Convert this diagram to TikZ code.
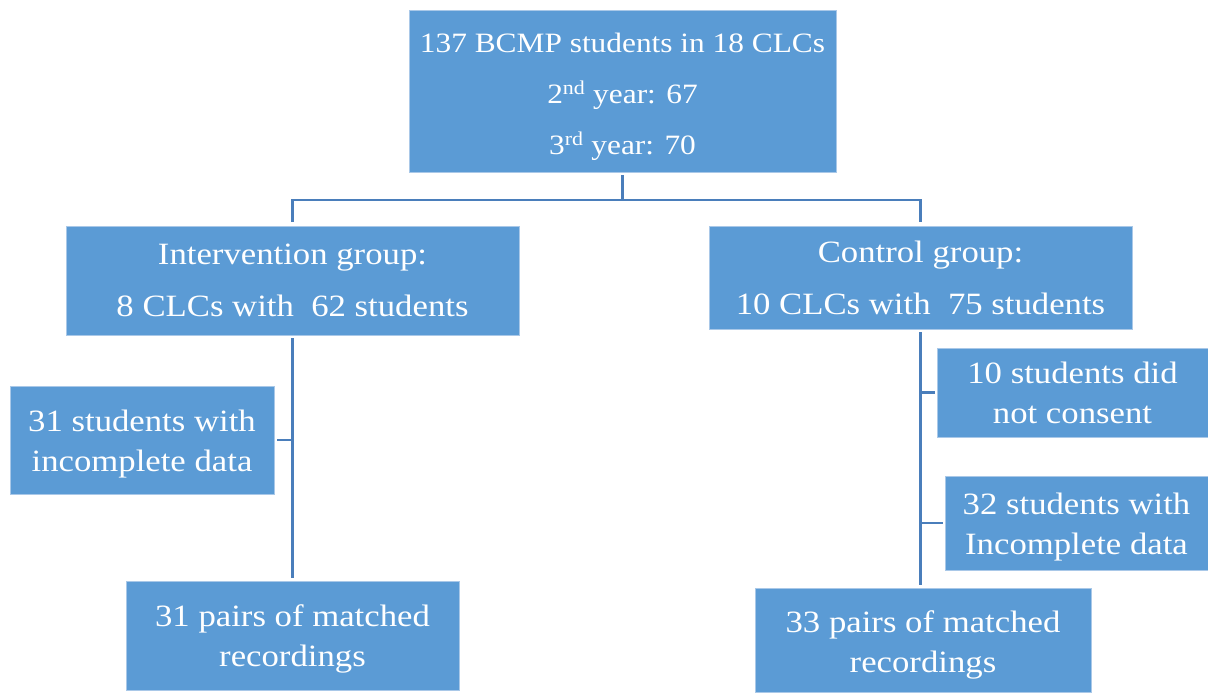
\documentclass[tikz,border=0pt]{standalone}
\usepackage{fontspec}
\setmainfont{Liberation Serif}[FakeStretch=1.12]
\definecolor{boxfill}{HTML}{5B9BD5}
\definecolor{boxedge}{HTML}{A9C8E8}
\definecolor{connc}{HTML}{4A7EBB}
\newcommand\dnA{\rule{0pt}{32pt}}
\newcommand\dnB{\rule{0pt}{29pt}}
\begin{document}
\begin{tikzpicture}[x=1pt,y=1pt,
  box/.style={rectangle, fill=boxfill, draw=boxedge, line width=0.8pt, text=white, align=center, inner sep=0pt},
  topf/.style={font=\fontsize{28}{51}\selectfont},
  wide/.style={font=\fontsize{31}{52}\selectfont},
  tight/.style={font=\fontsize{31}{40}\selectfont},
  conn/.style={draw=connc, line width=2.5pt}]
\useasboundingbox (0,0) rectangle (1208,-693);
\node[box, topf, minimum width=427, minimum height=162] (top) at (622.5,-91) {\dnA 137 BCMP students in 18 CLCs\\2\textsuperscript{nd} year: 67\\3\textsuperscript{rd} year: 70};
\node[box, wide, minimum width=453, minimum height=109] (int) at (292.5,-280.5) {Intervention group:\\8 CLCs with~ 62 students};
\node[box, wide, minimum width=423, minimum height=103] (ctrl) at (920.5,-277.5) {Control group:\\10 CLCs with~ 75 students};
\node[box, tight, minimum width=264, minimum height=108] (linc) at (142,-440) {\dnB 31 students with\\incomplete data};
\node[box, tight, minimum width=333, minimum height=109] (lbot) at (292.5,-635.5) {\dnB 31 pairs of matched\\recordings};
\node[box, tight, minimum width=271, minimum height=89] (rnc) at (1072.5,-392.5) {10 students did\\not consent};
\node[box, tight, minimum width=263, minimum height=94] (rinc) at (1076.5,-523) {\dnB 32 students with\\Incomplete data};
\node[box, tight, minimum width=336, minimum height=104] (rbot) at (923,-640) {\dnA 33 pairs of matched\\recordings};
\coordinate (j) at (622.5,-200);
\draw[conn, shorten <=3pt] (top.south) -- (j);
\draw[conn, shorten >=4pt] (j) -| (int.north);
\draw[conn, shorten >=4pt] (j) -| (ctrl.north);
\draw[conn, shorten <=3pt, shorten >=3pt] (int.south) -- (lbot.north);
\draw[conn, shorten <=3pt] (linc.east) -- (linc.east -| int.south);
\draw[conn, shorten <=3pt, shorten >=3pt] (ctrl.south) -- (ctrl.south |- rbot.north);
\draw[conn, shorten <=2pt] (rnc.west) -- (rnc.west -| ctrl.south);
\draw[conn, shorten <=2pt] (rinc.west) -- (rinc.west -| ctrl.south);
\end{tikzpicture}
\end{document}
